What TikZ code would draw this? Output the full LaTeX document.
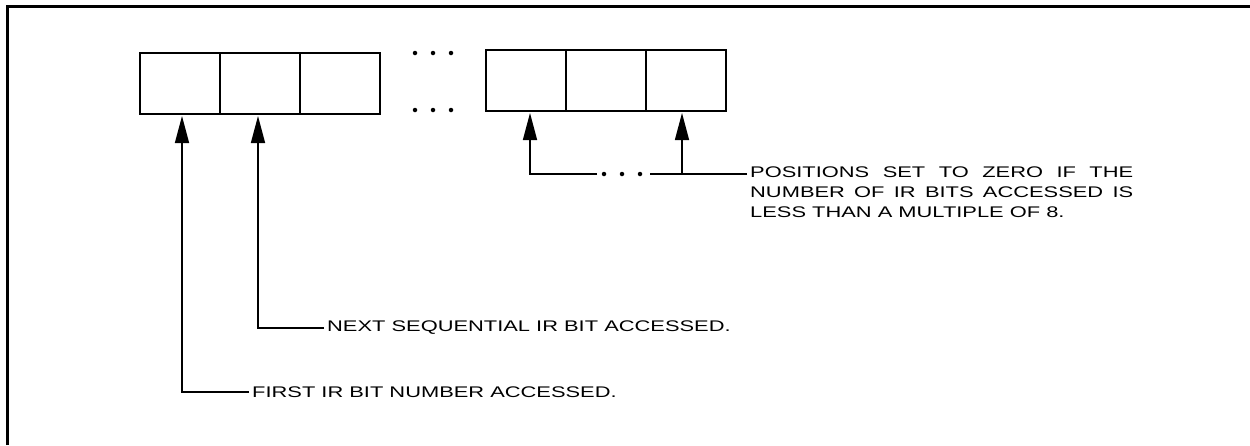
\documentclass[tikz,border=0pt]{standalone}
\usepackage{fontspec}
\newfontfamily\lblfont[FakeStretch=1.42]{Liberation Sans}
\usetikzlibrary{arrows.meta,calc}
\begin{document}
\begin{tikzpicture}[x=1pt,y=-1pt,
  cell/.style={draw,line width=1.6pt,minimum width=80pt,minimum height=61pt,inner sep=0pt,outer sep=0pt},
  lbl/.style={font=\lblfont\fontsize{15.4}{20}\selectfont,inner xsep=3pt,inner ysep=0pt},
  lead/.style={line width=1.5pt},
  ptr/.style={line width=1.5pt,-{Triangle[width=14pt,length=27pt]}},
  dotmark/.style={circle,fill,inner sep=0pt,minimum size=4.5pt}]
\useasboundingbox (0,0) rectangle (1250,445);
% frame
\draw[line width=3pt] (7,445) -- (7,6) -- (1250,6);
% left cells
\node[cell] (c1) at (180,83.5) {};
\node[cell] (c2) at (260,83.5) {};
\node[cell] (c3) at (340,83.5) {};
% right cells
\node[cell] (c4) at (526,80.5) {};
\node[cell] (c5) at (606,80.5) {};
\node[cell] (c6) at (686,80.5) {};
% ellipsis dots between the rows
\foreach \x/\n in {415/a,433/b,451/c}{
  \node[dotmark] (top\n) at (\x,53) {};
  \node[dotmark] (bot\n) at (\x,110) {};
}
% labels
\node[lbl,anchor=west] (t1) at (249,392) {FIRST IR BIT NUMBER ACCESSED.};
\node[lbl,anchor=west] (t2) at (324,328) {NEXT SEQUENTIAL IR BIT ACCESSED.};
\node[lbl,anchor=north west,align=left] (t3) at (747,167)
  {\hbox to 383pt{POSITIONS\hfill SET\hfill TO\hfill ZERO\hfill IF\hfill THE}\\
   \hbox to 383pt{NUMBER\hfill OF\hfill IR\hfill BITS\hfill ACCESSED\hfill IS}\\
   LESS THAN A MULTIPLE OF 8.};
% pointers from labels
\draw[ptr] (t1.west) -| ($(c1.south)+(2,2)$);
\draw[ptr] (t2.west) -| ($(c2.south)+(-2,2)$);
% right group
\coordinate (l3) at ($(t3.north west)+(0,7)$);
\coordinate (d1) at (597,174);
\coordinate (d2) at (650,174);
\coordinate (j6) at ($(c6.south)+(-4,63)$);
\draw[ptr] (d1) -| ($(c4.south)+(4,2)$);
\draw[lead] (l3) -- (d2);
\draw[ptr] (j6) -- ($(c6.south)+(-4,2)$);
\foreach \x/\n in {604/a,622/b,640/c}{
  \node[dotmark] (mid\n) at (\x,174) {};
}
\end{tikzpicture}
\end{document}
